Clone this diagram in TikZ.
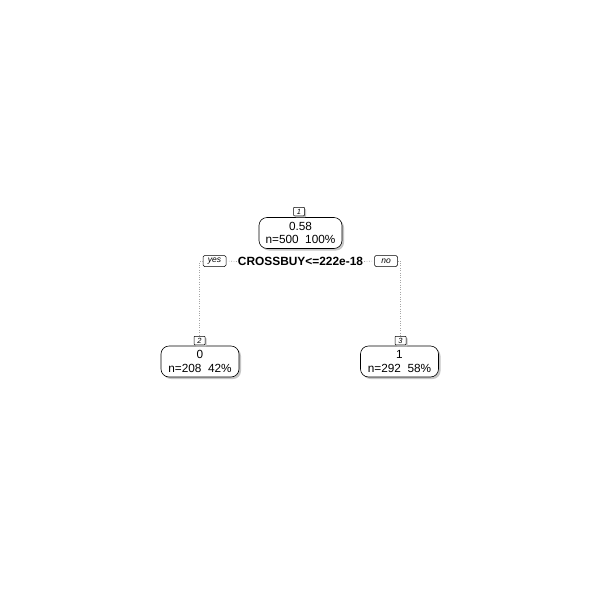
\documentclass[tikz,border=0pt]{standalone}
\usepackage{fontspec}
\setmainfont{Liberation Sans}
\usetikzlibrary{shadows}
\begin{document}
\begin{tikzpicture}[x=1pt,y=-1pt,
  leaf/.style={draw=black, line width=0.6pt, fill=white, rounded corners=8pt,
    minimum width=78pt, minimum height=31pt, inner sep=0pt, align=center,
    font=\fontsize{11.8}{13.5}\selectfont,
    drop shadow={shadow xshift=2pt, shadow yshift=-2pt, fill=gray!45, opacity=1}},
  numlab/.style={draw=black, line width=0.5pt, fill=white, rounded corners=0.8pt,
    minimum width=11pt, minimum height=8.5pt, inner sep=0pt,
    font=\fontsize{7.5}{7.5}\selectfont\itshape,
    drop shadow={shadow xshift=1.5pt, shadow yshift=-1.5pt, fill=gray!45, opacity=1}},
  yesno/.style={draw=black, line width=0.5pt, fill=white, rounded corners=1.5pt,
    minimum width=23pt, minimum height=11pt, inner sep=0pt,
    font=\fontsize{8.5}{8.5}\selectfont\itshape},
  splitlab/.style={inner sep=1pt, font=\fontsize{11.9}{11.9}\selectfont\bfseries},
  branch/.style={draw=gray!70, line width=0.6pt, dash pattern=on 0.8pt off 1.6pt}
]
\useasboundingbox (0,0) rectangle (600,600);
\fill[white] (0,0) rectangle (600,600);

% root
\node[leaf, minimum width=83pt] (n1) at (300.5,233) {0.58\\n=500\ \ 100\%};
\node[numlab] (l1) at (299,211.5) {1};
\node[splitlab] (split) at (300.5,261.5) {CROSSBUY<=222e-18};
\node[yesno] (yes) at (214.5,261) {yes};
\node[yesno] (no) at (386,261) {no};

% children
\node[leaf] (n2) at (200,361.5) {0\\n=208\ \ 42\%};
\node[numlab] (l2) at (199.5,340.5) {2};
\node[leaf] (n3) at (399.5,361.5) {1\\n=292\ \ 58\%};
\node[numlab] (l3) at (400.5,340.5) {3};

% branches
\draw[branch] (split.west) -- (yes.east);
\draw[branch] (yes.west) -| (l2.north);
\draw[branch] (split.east) -- (no.west);
\draw[branch] (no.east) -| (l3.north);
\end{tikzpicture}
\end{document}
